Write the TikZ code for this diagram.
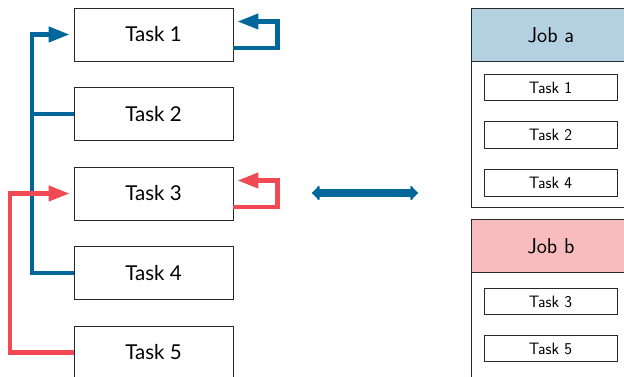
\documentclass[tikz,border=0pt]{standalone}
\usepackage{fontspec}
\setmainfont{Lato}
\usetikzlibrary{arrows.meta}
\definecolor{cblue}{RGB}{0,103,154}
\definecolor{cred}{RGB}{242,74,85}
\definecolor{hblue}{RGB}{179,209,224}
\definecolor{hred}{RGB}{249,188,190}
\definecolor{edge}{RGB}{40,40,40}
\tikzset{
  taskbox/.style={draw=edge,line width=0.9pt,minimum width=159pt,minimum height=53pt,inner sep=0pt,
    font=\fontsize{20.5}{23}\selectfont},
  smallbox/.style={draw=edge,line width=0.9pt,minimum width=133pt,minimum height=26.5pt,inner sep=0pt,
    font=\sffamily\fontsize{16.5}{18}\selectfont},
  jobhead/.style={draw=edge,line width=0.9pt,minimum width=159pt,minimum height=53pt,inner sep=0pt,
    font=\sffamily\fontsize{21.5}{24}\selectfont},
  flow/.style={line width=4.3pt,-{Triangle[length=21pt,width=15pt]}},
  flowplain/.style={line width=4.3pt},
}
\begin{document}
\begin{tikzpicture}[x=1pt,y=-1pt]
\useasboundingbox (0,0) rectangle (624,377);
% left tasks
\node[taskbox] (t1) at (153.5,34.5) {Task 1};
\node[taskbox] (t2) at (153.5,114) {Task 2};
\node[taskbox] (t3) at (153.5,193.5) {Task 3};
\node[taskbox] (t4) at (153.5,273) {Task 4};
\node[taskbox] (t5) at (153.5,352.5) {Task 5};
% blue connectors
\coordinate (bv) at (32,273);
\draw[flowplain,cblue] (t2.west) -- (32,114);
\draw[flow,cblue,shorten >=4pt] (t4.west) -- (bv) |- (t1.west);
\draw[flow,cblue] ([yshift=-13.5pt]t1.east) -- ++(44,0) |- ([xshift=4pt,yshift=13pt]t1.east);
% red connectors
\coordinate (rv) at (10,352.5);
\draw[flow,cred,shorten >=4pt] (t5.west) -- (rv) |- (t3.west);
\draw[flow,cred] ([yshift=-13.5pt]t3.east) -- ++(44,0) |- ([xshift=4pt,yshift=13pt]t3.east);
% double arrow
\coordinate (da) at (312,193);
\coordinate (db) at (418,193);
\draw[cblue,line width=8pt,{Latex[length=8pt,width=19pt,round]}-{Latex[length=8pt,width=19pt,round]}] (da) -- (db);
% Job a
\draw[edge,line width=0.9pt] (471,8) rectangle (640,207.5);
\node[jobhead,fill=hblue,minimum width=169pt,anchor=north west] (ja) at (471,8) {\hspace*{-10pt}Job a};
\node[smallbox] (a1) at (550.5,87.5) {Task 1};
\node[smallbox] (a2) at (550.5,135) {Task 2};
\node[smallbox] (a4) at (550.5,183) {Task 4};
% Job b
\draw[edge,line width=0.9pt] (471,219) rectangle (640,400);
\node[jobhead,fill=hred,minimum width=169pt,anchor=north west] (jb) at (471,219) {\hspace*{-10pt}Job b};
\node[smallbox] (b3) at (550.5,301.5) {Task 3};
\node[smallbox] (b5) at (550.5,348.5) {Task 5};
\end{tikzpicture}
\end{document}
